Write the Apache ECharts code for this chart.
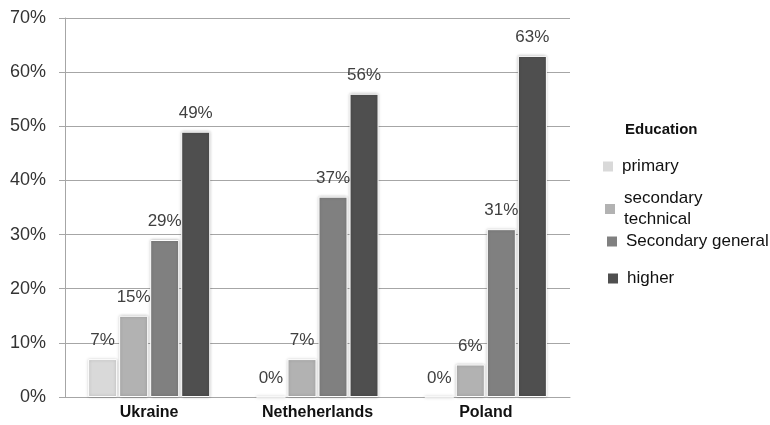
<!DOCTYPE html>
<html>
<head>
<meta charset="utf-8">
<script src="https://cdn.jsdelivr.net/npm/echarts@6/dist/echarts.min.js"></script>
<style>
  html, body { margin: 0; padding: 0; background: #fff; }
  #chart { width: 770px; height: 425px; }
</style>
</head>
<body>
<div id="chart"></div>
<script>
const countries = ['Ukraine', 'Netheherlands', 'Poland']
const seriesNames = ['primary', 'secondary\ntechnical', 'Secondary general', 'higher']
const primary = [7, 0, 0]
const secondaryTechnical = [15, 7, 6]
const secondaryGeneral = [29, 37, 31]
const higher = [49, 56, 63]
const colors = ['#d9d9d9', '#b2b2b2', '#808080', '#4f4f4f']
const legendPos = [
  { left: 603, top: 156 },
  { left: 605, top: 188 },
  { left: 607, top: 231 },
  { left: 608, top: 268 }
]

const chart = echarts.init(document.getElementById('chart'))
const values = [primary, secondaryTechnical, secondaryGeneral, higher]
const font = 'Liberation Sans'

const option = {
  animation: false,
  textStyle: { fontFamily: font },
  title: {
    text: 'Education',
    left: 620,
    top: 117,
    textStyle: { fontSize: 15, fontWeight: 'bold', color: '#111', fontFamily: font }
  },
  legend: seriesNames.map((n, i) => ({
    data: [n],
    orient: 'vertical',
    left: legendPos[i].left,
    top: legendPos[i].top,
    padding: 0,
    itemWidth: 10,
    itemHeight: 10,
    icon: 'rect',
    itemGap: 0,
    itemStyle: { borderWidth: 0, shadowBlur: 0 },
    textStyle: { fontSize: 17, color: '#111', lineHeight: 21, fontFamily: font, padding: [0, 0, 0, 4] }
  })),
  grid: { left: 65, right: 200, top: 18, bottom: 28 },
  xAxis: {
    type: 'category',
    data: countries,
    axisLine: { lineStyle: { color: '#a6a6a6' } },
    axisTick: { length: 6, lineStyle: { color: '#a6a6a6' } },
    axisLabel: { fontSize: 16, fontWeight: 'bold', color: '#111', margin: 8 }
  },
  yAxis: {
    type: 'value',
    min: 0,
    max: 70,
    interval: 10,
    axisLine: { show: true, lineStyle: { color: '#a6a6a6' } },
    axisTick: { show: true, length: 6, lineStyle: { color: '#a6a6a6' } },
    splitLine: { lineStyle: { color: '#a6a6a6' } },
    axisLabel: { formatter: '{value}%', fontSize: 18, color: '#333', margin: 19 }
  },
  series: seriesNames.map((n, i) => ({
    name: n,
    type: 'bar',
    data: values[i],
    barWidth: 29,
    barGap: '7%',
    itemStyle: {
      color: colors[i],
      borderColor: '#fff',
      borderWidth: 1,
      shadowBlur: 3,
      shadowColor: 'rgba(0,0,0,0.25)'
    },
    label: {
      show: true,
      position: 'top',
      distance: 10,
      formatter: '{c}%',
      fontSize: 17,
      color: '#404040'
    }
  }))
}

chart.setOption(option)
</script>
</body>
</html>
